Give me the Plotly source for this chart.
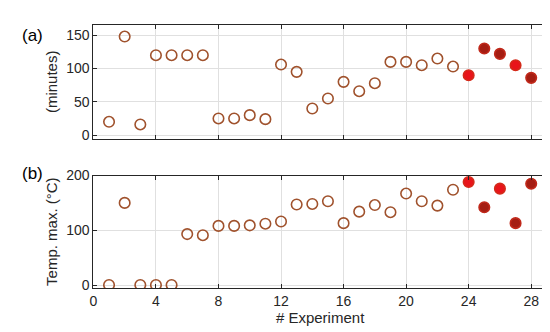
import plotly.graph_objects as go

experiments = list(range(1, 29))
minutes = [20, 148, 16, 120, 120, 120, 120, 25, 25, 30, 24, 106, 95, 40, 55, 80,
           66, 78, 110, 110, 105, 115, 103, 90, 130, 122, 105, 86]
temp_max = [0, 150, 0, 0, 0, 93, 91, 108, 108, 109, 112, 116, 147, 148, 153, 113,
            134, 146, 133, 167, 153, 145, 174, 188, 142, 176, 113, 185]
# fill kinds: 0 = open, 1 = red, 2 = dark red
fill_a = [0]*23 + [1, 2, 2, 1, 2]
fill_b = [0]*23 + [1, 2, 1, 2, 2]
x_ticks = [0, 4, 8, 12, 16, 20, 24, 28]

EDGE = "#a0522d"
FILLS = {0: "rgba(255,255,255,0)", 1: "#e8141a", 2: "#a51d12"}
LINES = {0: EDGE, 1: "#d42a1a", 2: "#c0281a"}

W, H = 550, 332
def px(x0, x1):
    return [x0 / W, x1 / W]
def py(top, bottom):
    return [(H - bottom) / H, (H - top) / H]

fig = go.Figure()
for vals, fills, xa, ya in [(minutes, fill_a, "x", "y"), (temp_max, fill_b, "x2", "y2")]:
    fig.add_trace(go.Scatter(
        x=experiments, y=vals, mode="markers", xaxis=xa, yaxis=ya,
        marker=dict(size=10.5, symbol="circle",
                    color=[FILLS[f] for f in fills],
                    line=dict(width=1.6, color=[LINES[f] if f else EDGE for f in fills])),
        showlegend=False, hoverinfo="x+y"))

FAM = "Liberation Sans, Arial, sans-serif"
font = dict(family=FAM, size=14, color="#262626")
tfont = dict(family=FAM, size=15, color="#262626")
axis_common = dict(showline=True, linecolor="#262626", linewidth=1, mirror="ticks",
                   ticks="inside", ticklen=4, tickcolor="#262626",
                   showgrid=True, gridcolor="#e0e0e0", gridwidth=1, zeroline=False,
                   tickfont=font)

xdom = px(82, 82 + 29 * 15.75)
fig.update_layout(
    width=W, height=H, margin=dict(l=0, r=0, t=0, b=0),
    paper_bgcolor="white", plot_bgcolor="white",
    xaxis=dict(domain=xdom, range=[0, 29], tickvals=x_ticks, showticklabels=False,
               anchor="y", **axis_common),
    yaxis=dict(domain=py(9, 128), range=[-5.8, 165.9], tickvals=[0, 50, 100, 150],
               anchor="x", title=dict(text="(minutes)", font=tfont, standoff=4),
               **axis_common),
    xaxis2=dict(domain=xdom, range=[0, 29], tickvals=x_ticks, anchor="y2",
                title=dict(text="# Experiment", font=tfont, standoff=4),
                **axis_common),
    yaxis2=dict(domain=py(166, 283), range=[-5.3, 200], tickvals=[0, 100, 200],
                anchor="x2", title=dict(text="Temp. max. (°C)", font=tfont, standoff=4),
                **axis_common),
    annotations=[
        dict(text="(a)", x=8 / W, y=(H - 20) / H, xref="paper", yref="paper",
             xanchor="left", yanchor="middle", showarrow=False,
             font=dict(family=FAM, size=17, color="black")),
        dict(text="(b)", x=8 / W, y=(H - 164) / H, xref="paper", yref="paper",
             xanchor="left", yanchor="middle", showarrow=False,
             font=dict(family=FAM, size=17, color="black")),
    ],
)
fig.write_html("out.html")
